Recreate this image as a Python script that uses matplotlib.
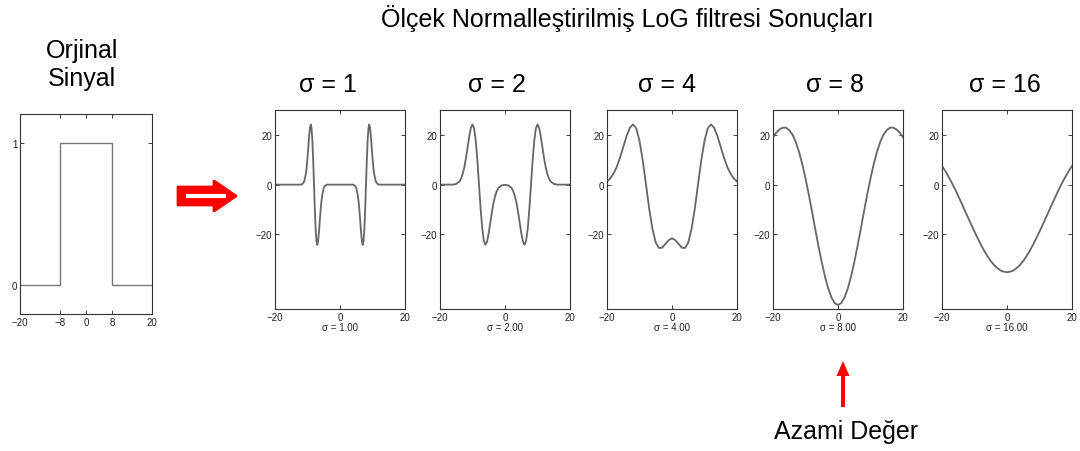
import matplotlib.pyplot as plt
import matplotlib.patches as mpatches

plt.rcParams['font.family'] = ['Liberation Sans', 'DejaVu Sans']

# original signal (rectangular pulse)
sig_x = [-20, -8, -8, 8, 8, 20]
sig_y = [0, 0, 1, 1, 0, 0]

# scale normalised LoG responses
x1 = [-20, -12, -11.5, -11, -10.5, -10.25, -10, -9.75, -9.5, -9.25, -9, -8.75, -8.5, -8.25,
      -8, -7.75, -7.5, -7.25, -7, -6.75, -6.5, -6.25, -6, -5.75, -5.5, -5, -4.5, -4,
      4, 4.5, 5, 5.5, 5.75, 6, 6.25, 6.5, 6.75, 7, 7.25, 7.5, 7.75, 8,
      8.25, 8.5, 8.75, 9, 9.25, 9.5, 9.75, 10, 10.25, 10.5, 11, 11.5, 12, 20]
y1 = [0, 0, 0.3, 1.3, 4.4, 7.1, 10.8, 15.1, 19.4, 22.8, 24.2, 22.6, 17.6, 9.7,
      0, -9.7, -17.6, -22.6, -24.2, -22.8, -19.4, -15.1, -10.8, -7.1, -4.4, -1.3, -0.3, 0,
      0, -0.3, -1.3, -4.4, -7.1, -10.8, -15.1, -19.4, -22.8, -24.2, -22.6, -17.6, -9.7, 0,
      9.7, 17.6, 22.6, 24.2, 22.8, 19.4, 15.1, 10.8, 7.1, 4.4, 1.3, 0.3, 0, 0]

x2 = [-20, -16, -15, -14, -13.5, -13, -12.5, -12, -11.5, -11, -10.5, -10, -9.5, -9, -8.5,
      -8, -7.5, -7, -6.5, -6, -5.5, -5, -4.5, -4, -3.5, -3, -2.5, -2, -1,
      0, 1, 2, 2.5, 3, 3.5, 4, 4.5, 5, 5.5, 6, 6.5, 7, 7.5, 8,
      8.5, 9, 9.5, 10, 10.5, 11, 11.5, 12, 12.5, 13, 13.5, 14, 15, 16, 20]
y2 = [0, 0, 0.3, 1.3, 2.5, 4.4, 7.1, 10.8, 15.1, 19.4, 22.8, 24.2, 22.6, 17.6, 9.7,
      0, -9.7, -17.6, -22.6, -24.2, -22.8, -19.4, -15.1, -10.8, -7.1, -4.4, -2.5, -1.3, -0.3,
      -0.1, -0.3, -1.3, -2.5, -4.4, -7.1, -10.8, -15.1, -19.4, -22.8, -24.2, -22.6, -17.6, -9.7, 0,
      9.7, 17.6, 22.6, 24.2, 22.8, 19.4, 15.1, 10.8, 7.1, 4.4, 2.5, 1.3, 0.3, 0, 0]

x_int = list(range(-20, 21))
y4 = [1.3, 2.5, 4.4, 7.1, 10.8, 15.1, 19.4, 22.8, 24.2, 22.6, 17.6, 9.7, 0, -9.8, -17.9,
      -23.3, -25.5, -25.3, -23.8, -22.3, -21.6, -22.3, -23.8, -25.3, -25.5, -23.3, -17.9,
      -9.8, 0, 9.7, 17.6, 22.6, 24.2, 22.8, 19.4, 15.1, 10.8, 7.1, 4.4, 2.5, 1.3]
y8 = [19.1, 20.9, 22.2, 22.9, 22.9, 21.9, 20.1, 17.2, 13.2, 8.3, 2.5, -3.9, -10.8, -17.9,
      -24.8, -31.2, -37.0, -41.8, -45.4, -47.6, -48.4, -47.6, -45.4, -41.8, -37.0, -31.2,
      -24.8, -17.9, -10.8, -3.9, 2.5, 8.3, 13.2, 17.2, 20.1, 21.9, 22.9, 22.9, 22.2, 20.9, 19.1]
y16 = [7.5, 5.5, 3.2, 0.8, -1.8, -4.6, -7.4, -10.3, -13.2, -16.1, -18.9, -21.6, -24.2, -26.6,
       -28.8, -30.7, -32.3, -33.5, -34.5, -35.0, -35.2, -35.0, -34.5, -33.5, -32.3, -30.7,
       -28.8, -26.6, -24.2, -21.6, -18.9, -16.1, -13.2, -10.3, -7.4, -4.6, -1.8, 0.8, 3.2, 5.5, 7.5]

sigmas = [1, 2, 4, 8, 16]
curves = [(x1, y1), (x2, y2), (x_int, y4), (x_int, y8), (x_int, y16)]

W, H = 1080, 452
fig = plt.figure(figsize=(W / 100, H / 100), dpi=100)


def px_axes(left, top, w, h):
    return fig.add_axes([left / W, (H - top - h) / H, w / W, h / H])


def style(ax):
    ax.tick_params(direction='in', length=3, width=0.6, labelsize=7, colors='#222222',
                   top=True, right=True, pad=2)
    for s in ax.spines.values():
        s.set_linewidth(0.8)
        s.set_color('#333333')


# original signal
ax = px_axes(20, 115, 132, 200)
ax.plot(sig_x, sig_y, color='#777777', lw=1.0)
ax.set_xlim(-20, 20)
ax.set_ylim(-0.2, 1.2)
ax.set_xticks([-20, -8, 0, 8, 20])
ax.set_yticks([0, 1])
style(ax)

lefts = [275, 440, 607, 773, 942]
title_x = [0.41, 0.44, 0.46, 0.48, 0.48]
for left, tx, s, (xs, ys) in zip(lefts, title_x, sigmas, curves):
    ax = px_axes(left, 111, 130, 199)
    ax.plot(xs, ys, color='#666666', lw=1.3)
    ax.set_xlim(-20, 20)
    ax.set_ylim(-50, 30)
    ax.set_xticks([-20, 0, 20])
    ax.set_yticks([-20, 0, 20])
    style(ax)
    ax.set_xlabel('σ = %.2f' % s, fontsize=7, labelpad=0, color='#222222')
    ax.set_title('σ = %d' % s, fontsize=18, pad=14, x=tx)

# texts
fig.text(627 / W, 1 - 18 / H, 'Ölçek Normalleştirilmiş LoG filtresi Sonuçları',
         ha='center', va='center', fontsize=18)
fig.text(82 / W, 1 - 65 / H, 'Orjinal\nSinyal', ha='center', va='center',
         fontsize=18, linespacing=1.25)
fig.text(846 / W, 1 - 432 / H, 'Azami Değer', ha='center', va='center', fontsize=18)

# overlay in pixel coords for the arrows
ov = fig.add_axes([0, 0, 1, 1])
ov.set_xlim(0, W)
ov.set_ylim(H, 0)
ov.axis('off')
ov.add_patch(mpatches.FancyArrow(178, 197, 36, 0, width=18, head_width=30,
                                 head_length=22, length_includes_head=False,
                                 color='#ff0000', joinstyle='round', lw=2))
ov.plot([186, 226], [197, 197], color='white', lw=3, solid_capstyle='butt')
ov.add_patch(mpatches.FancyArrow(843, 408, 0, -46, width=4, head_width=13,
                                 head_length=15, length_includes_head=True,
                                 color='#ff0000', lw=0))

fig.savefig('out.png', dpi=100)
